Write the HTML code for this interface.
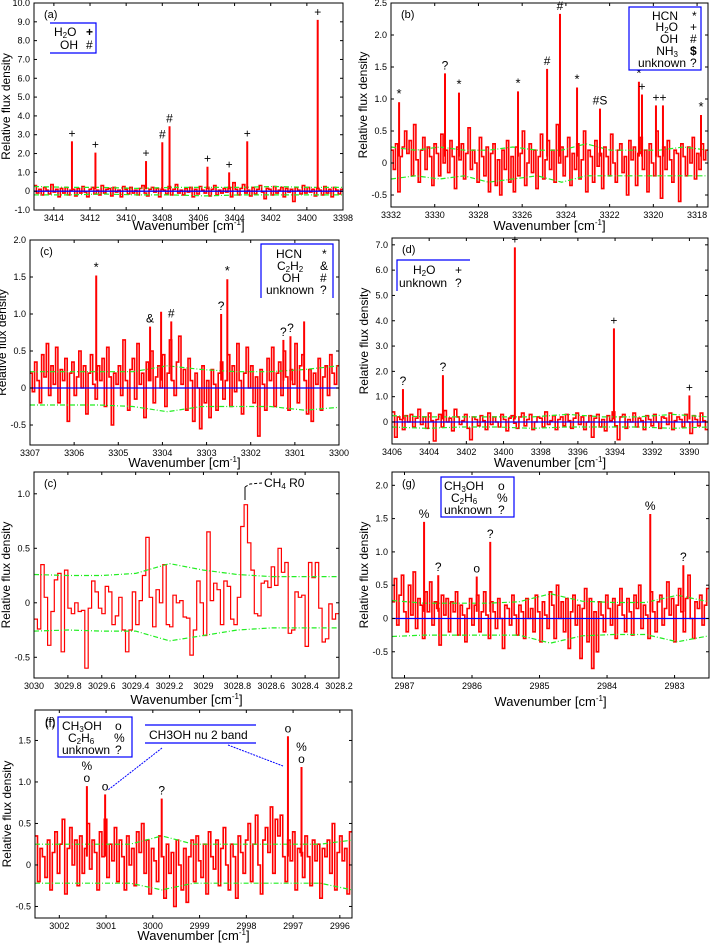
<!DOCTYPE html>
<html><head><meta charset="utf-8"><style>
html,body{margin:0;padding:0;background:#fff;}
svg{display:block;font-family:"Liberation Sans",sans-serif;}
</style></head><body>
<svg id="fig" width="711" height="947" viewBox="0 0 711 947" xmlns="http://www.w3.org/2000/svg"></svg>
<script>
// ---------- DATA ----------
const aNoise=[0.3,-0.1,0.1,-0.2,0.2,0.05,-0.15,0.35,-0.05,0.1,-0.3,0.15,-0.1,0.2,-0.2,0.05,0.1,-0.25,0.15,-0.1,0.25,-0.05,-0.3,0.1,0.2,-0.15,0.05,-0.2,0.3,-0.1,0.1,0.15,-0.25,0.2,-0.05,0.05,-0.3,0.25,0.1,-0.15,0.2,-0.1,0.05,-0.2,0.15,0.3,-0.1,-0.25,0.1,0.2,-0.05,0.15,-0.3,0.1,0.05,-0.15,0.25,-0.2,0.1,0.35,-0.1,0.05,-0.2,0.15,-0.05,0.2,-0.3,0.1,-0.15,0.25,0.05,-0.1,0.2,-0.25,0.1,0.3,-0.2,0.05,-0.1,0.15,-0.05,0.2,-0.3,0.45,0.1,-0.2,0.15,0.35,-0.1,0.05,-0.25,0.2,-0.15,0.1,0.3,-0.05,-0.4,0.15,0.1,-0.2,0.25,-0.1,0.05,0.2,-0.3,0.15,-0.05,0.1,-0.55,0.2,0.05,-0.15,0.3,-0.1,0.2,-0.05,0.1,-0.25,0.15,0.05,-0.2,0.25,-0.1,0.1,-0.3,0.2,0.05,-0.15,0.1];
const aPeakPos=[3413.0,3411.7,3408.9,3408.0,3407.6,3405.5,3404.3,3403.3,3399.4];
const aPeakVal=[2.65,2.05,1.6,2.6,3.45,1.3,1.0,2.65,9.1];
const aPeakSym=['+','+','+','#','#','+','+','+','+'];
const aEnvUp=[0.25,0.2,0.2,0.15,0.2,0.2,0.2,0.25,0.2,0.2];
const aEnvLo=[-0.2,-0.2,-0.15,-0.2,-0.2,-0.25,-0.2,-0.2,-0.2,-0.2];

const bNoise=[0.2,-0.1,0.3,-0.45,0.1,0.25,0.5,0.15,0.35,-0.2,0.6,0.05,-0.3,0.2,0.4,-0.1,0.25,0.1,-0.35,0.3,0.15,-0.2,0.45,0.0,0.2,-0.15,0.35,0.1,-0.4,0.25,0.05,0.3,-0.25,0.15,0.55,-0.1,0.2,0.0,-0.3,0.4,0.1,-0.2,0.25,-0.45,0.15,0.3,-0.35,0.05,-0.5,0.2,-0.1,0.35,-0.3,0.1,-0.45,0.25,-0.2,0.15,0.5,-0.35,0.0,0.3,-0.15,0.2,-0.4,0.1,0.45,-0.25,0.05,0.35,-0.1,0.2,-0.3,0.6,0.0,0.25,-0.2,0.1,0.4,-0.35,0.15,-0.1,0.3,-0.25,0.05,0.5,-0.45,0.2,0.1,-0.3,0.35,-0.05,0.15,-0.4,0.25,0.1,-0.2,0.45,0.0,-0.3,0.2,0.3,-0.15,0.1,-0.5,0.35,0.05,0.25,-0.35,0.15,0.4,-0.1,0.2,-0.45,0.3,0.0,-0.2,0.5,0.1,-0.55,0.25,-0.1,0.35,0.05,-0.3,0.2,0.15,-0.6,0.3,0.1,-0.2,0.25,0.0,0.4,-0.25,0.15,-0.1,0.3,0.05,0.2];
const bPeakPos=[3331.63,3329.53,3328.89,3326.19,3324.86,3324.27,3323.49,3322.44,3320.66,3320.52,3319.88,3319.56,3317.82];
const bPeakVal=[0.95,1.4,1.1,1.12,1.47,2.33,1.18,0.85,1.27,1.07,0.9,0.9,0.75];
const bPeakSym=['*','?','*','*','#','#','*','#$','*','+','+','+','*'];
const bEnvUp=[0.25,0.2,0.25,0.2,0.2,0.25,0.2,0.2,0.3,0.2,0.2,0.2,0.25,0.2];
const bEnvLo=[-0.25,-0.2,-0.25,-0.2,-0.3,-0.25,-0.2,-0.3,-0.2,-0.2,-0.2,-0.2,-0.2,-0.2];

const cNoise=[0.2,-0.05,0.35,0.1,-0.2,0.45,0.15,0.6,-0.1,0.3,0.05,0.55,-0.2,0.25,0.1,0.4,-0.45,0.2,0.35,-0.1,0.15,0.5,0.0,0.3,-0.35,0.2,0.45,0.05,-0.15,0.3,0.1,0.4,-0.25,0.55,0.15,-0.5,0.2,0.05,0.3,-0.1,0.65,0.1,-0.3,0.25,0.4,-0.15,0.6,0.05,0.2,-0.4,0.35,0.1,0.5,-0.2,0.15,0.3,0.0,0.45,-0.25,0.2,0.65,0.1,-0.1,0.35,0.7,0.05,0.25,-0.3,0.4,0.1,-0.45,0.2,0.0,-0.55,0.3,-0.2,0.1,-0.4,0.25,0.05,-0.3,0.2,0.35,-0.15,0.1,0.45,-0.25,0.3,-0.05,0.6,0.1,-0.35,0.2,0.55,0.0,0.3,-0.2,0.15,-0.65,0.25,0.05,-0.3,0.4,0.1,0.55,-0.25,0.2,0.35,-0.1,0.5,0.15,-0.3,0.25,0.05,0.6,-0.2,0.3,0.45,0.1,-0.35,0.25,-0.45,0.2,0.05,0.4,-0.3,0.15,0.3,-0.1,0.45,0.2,0.05,0.3];
const cPeakPos=[3305.5,3304.28,3304.03,3303.8,3302.67,3302.53,3301.26,3301.1,3300.79];
const cPeakVal=[1.52,0.83,1.03,0.9,1.0,1.47,0.65,0.7,0.9];
const cPeakSym=['*','&','','#','?','*','?','?',''];
const cEnvUp=[0.22,0.22,0.22,0.22,0.3,0.25,0.22,0.22,0.25,0.3];
const cEnvLo=[-0.23,-0.23,-0.23,-0.25,-0.32,-0.25,-0.25,-0.25,-0.3,-0.26];

const dNoise=[0.4,-0.6,0.2,0.1,-0.3,0.25,0.0,0.3,-0.2,0.15,0.5,-0.1,0.2,-0.25,0.35,0.05,-0.75,0.1,0.3,-0.2,0.45,0.0,0.15,-0.35,0.5,0.2,-0.1,0.05,0.3,-0.25,-0.7,0.2,0.1,-0.15,0.25,0.05,-0.3,0.35,-0.1,0.2,0.0,-0.2,0.3,0.1,-0.35,0.15,0.25,-0.05,-0.25,0.2,0.35,-0.15,0.1,0.3,-0.3,0.0,0.2,0.15,-0.2,0.4,-0.1,0.05,0.25,-0.3,0.1,0.2,-0.15,0.3,0.05,-0.25,0.15,0.35,-0.1,0.2,-0.3,0.0,0.25,-0.6,0.15,0.3,-0.2,0.1,-0.35,0.25,0.05,0.4,-0.15,-0.7,0.2,0.3,-0.25,0.1,0.0,0.35,-0.2,0.15,0.05,-0.3,0.25,0.1,-0.15,0.3,0.0,-0.25,0.2,0.15,-0.1,0.35,-0.3,0.05,0.2,0.1,-0.2,0.3,0.0,-0.45,0.25,0.1,-0.15,0.35,0.05,-0.3];
const dPeakPos=[3405.41,3403.26,3399.39,3394.06,3390.0];
const dPeakVal=[1.3,1.85,6.9,3.7,1.05];
const dPeakSym=['?','?','+','+','+'];
const dEnvUp=[0.25,0.2,0.2,0.2,0.2,0.3,0.2,0.2,0.3,0.2];
const dEnvLo=[-0.2,-0.25,-0.2,-0.2,-0.25,-0.2,-0.2,-0.2,-0.25,-0.2];

const eValues=[-0.15,-0.24,0.35,0.05,-0.39,-0.08,0.21,0.27,-0.45,0.3,-0.05,-0.1,0.0,-0.08,-0.07,-0.6,-0.05,0.2,0.1,-0.05,-0.1,0.15,0.1,-0.2,-0.12,0.05,-0.25,-0.45,-0.25,0.1,-0.2,0.02,0.25,0.6,0.05,-0.22,0.12,0.0,0.35,-0.2,-0.22,0.07,0.0,0.02,-0.13,-0.14,-0.48,-0.25,0.2,0.0,-0.3,0.65,0.02,0.18,0.12,-0.2,0.2,0.15,-0.15,-0.2,0.05,0.7,0.9,0.55,0.3,-0.1,-0.12,0.18,0.2,0.14,0.33,0.16,0.5,0.28,0.37,-0.28,-0.25,0.1,0.05,0.07,-0.4,0.37,0.23,0.37,-0.05,-0.36,-0.33,-0.01,-0.15,-0.1];
const eEnvUp=[0.26,0.25,0.25,0.27,0.36,0.3,0.26,0.24,0.24,0.24];
const eEnvLo=[-0.26,-0.25,-0.26,-0.26,-0.35,-0.3,-0.25,-0.23,-0.23,-0.23];

const gNoise=[0.25,0.6,-0.1,0.35,0.65,0.1,-0.2,0.5,0.05,0.7,-0.15,0.3,0.2,-0.3,0.4,0.1,0.55,-0.1,0.25,0.15,-0.4,0.35,0.05,0.3,-0.2,0.25,0.1,0.4,-0.25,0.2,0.05,-0.35,0.15,0.3,-0.1,0.2,0.35,-0.2,0.1,0.4,0.05,-0.3,0.25,0.1,-0.15,0.3,0.0,-0.45,0.2,0.15,-0.1,0.35,0.05,-0.25,0.2,0.1,-0.3,0.3,0.0,0.15,-0.2,0.35,0.1,-0.35,0.25,0.05,-0.15,0.4,0.2,-0.3,0.5,0.0,0.25,-0.2,0.3,-0.45,0.1,0.35,-0.1,0.2,-0.6,0.15,0.45,-0.35,0.3,-0.75,0.1,-0.5,0.25,0.05,-0.2,0.35,0.15,-0.1,0.3,-0.3,0.2,0.45,0.05,-0.2,0.3,0.1,-0.25,0.35,0.15,0.5,-0.15,0.2,0.05,-0.3,0.4,0.1,-0.2,0.25,0.35,-0.1,0.15,0.55,0.05,0.3,-0.35,0.2,0.45,0.1,-0.2,0.3,0.65,0.0,-0.3,0.25,0.15,0.35,-0.1,0.2,0.45];
const gPeakPos=[2986.71,2986.50,2985.93,2985.73,2983.36,2982.87];
const gPeakVal=[1.45,0.65,0.63,1.15,1.57,0.8];
const gPeakSym=['%','?','o','?','%','?'];
const gEnvUp=[0.27,0.23,0.23,0.23,0.25,0.37,0.26,0.24,0.24,0.35,0.25];
const gEnvLo=[-0.27,-0.25,-0.25,-0.25,-0.25,-0.37,-0.26,-0.24,-0.24,-0.35,-0.26];

const fNoise=[0.35,-0.2,0.2,0.1,-0.15,0.3,-0.3,0.15,0.4,-0.1,0.25,0.55,-0.35,0.2,0.45,0.0,0.3,-0.25,0.35,-0.1,0.2,0.5,-0.05,0.3,0.15,-0.3,0.4,0.1,0.55,-0.15,0.25,0.05,0.45,-0.2,0.3,0.1,-0.3,0.35,0.0,0.2,-0.25,0.4,0.15,0.5,-0.1,0.3,-0.35,0.2,0.05,-0.2,0.35,0.1,-0.4,0.25,-0.1,0.15,-0.5,0.3,0.0,-0.3,0.2,-0.45,0.1,0.3,-0.2,0.35,0.05,-0.15,0.25,-0.35,0.4,0.1,-0.05,0.3,-0.25,0.2,0.45,0.0,-0.3,0.25,0.1,-0.4,0.35,0.15,-0.1,0.3,0.5,-0.2,0.25,0.6,0.0,-0.35,0.3,0.45,0.15,0.7,-0.1,0.55,0.35,0.6,0.1,-0.2,0.3,0.05,0.4,-0.3,0.2,0.15,-0.15,0.35,0.1,-0.25,0.3,0.05,0.25,-0.4,0.2,0.1,0.3,-0.1,0.5,-0.3,0.15,0.35,0.05,0.2,-0.35,0.4];
const fPeakPos=[3001.41,3001.02,2999.81,2997.11,2996.82];
const fPeakVal=[0.95,0.85,0.8,1.55,1.18];
const fPeakSym=['%o','o','?','o','%o'];
const fEnvUp=[0.25,0.25,0.25,0.25,0.35,0.25,0.25,0.25,0.25,0.25,0.3];
const fEnvLo=[-0.22,-0.22,-0.22,-0.22,-0.3,-0.22,-0.22,-0.22,-0.22,-0.22,-0.3];

// ---------- DRAWING ----------
const NS='http://www.w3.org/2000/svg';
const svg=document.getElementById('fig');
function mk(tag,attrs,parent){const e=document.createElementNS(NS,tag);for(const k in attrs)e.setAttribute(k,attrs[k]);(parent||svg).appendChild(e);return e;}

function panel(p){
  const g=mk('g',{});
  
  
  const [L,T,R,B]=p.box;
  const sx=v=>L+(p.x0-v)/(p.x0-p.x1)*(R-L);
  const sy=v=>B-(v-p.y0)/(p.y1-p.y0)*(B-T);
  const cl='clip'+p.id;
  const cp=mk('clipPath',{id:cl},g);mk('rect',{x:L,y:T,width:R-L,height:B-T},cp);
  const plot=mk('g',{'clip-path':'url(#'+cl+')'},g);
  const n=p.noise.length;let d='';
  for(let i=0;i<n;i++){
    const xa=sx(p.x0+(p.x1-p.x0)*i/n), xb=sx(p.x0+(p.x1-p.x0)*(i+1)/n), y=sy(p.noise[i]);
    d+=(i?'L':'M')+xa.toFixed(1)+' '+y.toFixed(1)+'L'+xb.toFixed(1)+' '+y.toFixed(1);
  }
  const sp=mk('path',{d:d,fill:'none',stroke:'#f00','stroke-width':p.sw||1.6},plot);
  
  
  [p.envUp,p.envLo].forEach((env,k)=>{
    let dd='';env.forEach((v,i)=>{const x=sx(p.x0+(p.x1-p.x0)*i/(env.length-1));dd+=(i?'L':'M')+x.toFixed(1)+' '+sy(v).toFixed(1);});
    const ep=mk('path',{d:dd,fill:'none',stroke:'#2e2','stroke-width':1.2,'stroke-dasharray':'5,2,1,2'},plot);
    
    
  });
  if(p.zero){const z=mk('line',{x1:L,x2:R,y1:sy(0),y2:sy(0),stroke:'#00f','stroke-width':1.3},plot);
    }
  (p.peakPos||[]).forEach((w,i)=>{
    const x=sx(w),v=p.peakVal[i];
    const pk=mk('line',{x1:x,x2:x,y1:sy(0.1),y2:sy(v),stroke:'#f00','stroke-width':2},plot);
    
    
    const s=p.peakSym[i];
    if(s){
      const lines=s==='%o'?['%','o']:[s];
      lines.forEach((t,j)=>{
        const tx=mk('text',{x:x,y:sy(v)-4-(lines.length-1-j)*12,'text-anchor':'middle','font-size':(t==='*'?13:12),fill:'#000'},g);
        tx.textContent=t==='#$'?'#S':t;
        
        
      });
    }
  });
  const fr=mk('rect',{x:L,y:T,width:R-L,height:B-T,fill:'none',stroke:'#000','stroke-width':1},g);
  
  p.yTicks.forEach((v,i)=>{
    const y=sy(v);
    mk('line',{x1:L,x2:L+3,y1:y,y2:y,stroke:'#000'},g);mk('line',{x1:R,x2:R-3,y1:y,y2:y,stroke:'#000'},g);
    const t=mk('text',{x:L-4,y:y+3,'text-anchor':'end','font-size':9,fill:'#000'},g);
    t.textContent=p.yLabels[i];
    
    
  });
  p.xTicks.forEach((v,i)=>{
    const x=sx(v);
    mk('line',{x1:x,x2:x,y1:B,y2:B-3,stroke:'#000'},g);mk('line',{x1:x,x2:x,y1:T,y2:T+3,stroke:'#000'},g);
    const t=mk('text',{x:x,y:B+11,'text-anchor':'middle','font-size':9,fill:'#000'},g);
    t.textContent=p.xLabels[i];
    
    
  });
  const yt=mk('text',{transform:'translate('+(L-24)+','+((T+B)/2)+') rotate(-90)','text-anchor':'middle','font-size':12,fill:'#000'},g);
  yt.textContent='Relative flux density';
  
  if(p.xt!==false){
    const xt=mk('text',{x:(L+R)/2,y:p.xtY||B+24,'text-anchor':'middle','font-size':13,fill:'#000'},g);
    xt.innerHTML='Wavenumber [cm<tspan font-size="8" dy="-5">-1</tspan><tspan dy="5">]</tspan>';
    
  }
  const pl=mk('text',{x:L+10,y:T+15,'font-size':11,fill:'#000'},g);pl.textContent='('+(p.label||p.id)+')';
  
  return g;
}
function rng(a,b,s){const r=[];for(let v=a;s>0?v<=b+1e-9:v>=b-1e-9;v+=s)r.push(Math.round(v*100)/100);return r;}
function fmt1(v){return v===0?'0':v.toFixed(1);}

panel({id:'a',box:[34,3,343,210],x0:3415.1,x1:3398,y0:-1,y1:10,noise:aNoise,envUp:aEnvUp,envLo:aEnvLo,zero:true,
  peakPos:aPeakPos,peakVal:aPeakVal,peakSym:aPeakSym,yTicks:rng(-1,10,1),yLabels:rng(-1,10,1).map(fmt1),
  xTicks:rng(3414,3398,-2),xLabels:rng(3414,3398,-2).map(String),xtY:230});
panel({id:'b',box:[391,3,708,207],x0:3332,x1:3317.5,y0:-0.6875,y1:2.5,noise:bNoise,envUp:bEnvUp,envLo:bEnvLo,
  peakPos:bPeakPos,peakVal:bPeakVal,peakSym:bPeakSym,yTicks:rng(-0.5,2.5,0.5),yLabels:rng(-0.5,2.5,0.5).map(fmt1),
  xTicks:rng(3332,3318,-2),xLabels:rng(3332,3318,-2).map(String),xtY:230});
panel({id:'c',box:[30,240,339,445],x0:3307,x1:3300,y0:-0.77,y1:2.0,noise:cNoise,envUp:cEnvUp,envLo:cEnvLo,zero:true,
  peakPos:cPeakPos,peakVal:cPeakVal,peakSym:cPeakSym,yTicks:rng(-0.5,2,0.5),yLabels:rng(-0.5,2,0.5).map(fmt1),
  xTicks:rng(3307,3300,-1),xLabels:rng(3307,3300,-1).map(String),xtY:467});
panel({id:'d',box:[392,238,708,444],x0:3406,x1:3389,y0:-0.87,y1:7.27,noise:dNoise,envUp:dEnvUp,envLo:dEnvLo,zero:true,
  peakPos:dPeakPos,peakVal:dPeakVal,peakSym:dPeakSym,yTicks:rng(0,7,1),yLabels:rng(0,7,1).map(fmt1),
  xTicks:rng(3406,3390,-2),xLabels:rng(3406,3390,-2).map(String),xtY:467});
panel({id:'e',label:'c',sw:1.2,box:[34,472,339,678],x0:3030,x1:3028.2,y0:-0.69,y1:1.2,noise:eValues,envUp:eEnvUp,envLo:eEnvLo,
  yTicks:rng(-0.5,1,0.5),yLabels:rng(-0.5,1,0.5).map(fmt1),
  xTicks:rng(3030,3028.2,-0.2),xLabels:rng(3030,3028.2,-0.2).map(v=>v===3030?'3030':v===3029?'3029':v.toFixed(1)),xtY:704});
panel({id:'g',box:[392,472,709,678],x0:2987.185,x1:2982.49,y0:-0.894,y1:2.2,noise:gNoise,envUp:gEnvUp,envLo:gEnvLo,zero:true,
  peakPos:gPeakPos,peakVal:gPeakVal,peakSym:gPeakSym,yTicks:rng(-0.5,2,0.5),yLabels:rng(-0.5,2,0.5).map(fmt1),
  xTicks:rng(2987,2983,-1),xLabels:rng(2987,2983,-1).map(String),xtY:706});
panel({id:'f',box:[35,710,352,918],x0:3002.52,x1:2995.74,y0:-0.639,y1:1.867,noise:fNoise,envUp:fEnvUp,envLo:fEnvLo,
  peakPos:fPeakPos,peakVal:fPeakVal,peakSym:fPeakSym,yTicks:rng(-0.5,1.5,0.5),yLabels:rng(-0.5,1.5,0.5).map(fmt1),
  xTicks:rng(3002,2996,-1),xLabels:rng(3002,2996,-1).map(String),xtY:940});

mk('line',{x1:245,x2:245,y1:500,y2:487,stroke:'#000'});
mk('path',{d:'M245 487 L250 484 L262 483',fill:'none',stroke:'#000','stroke-dasharray':'3,2'});
const ch4=mk('text',{x:264,y:487,'font-size':12,fill:'#000'});
ch4.innerHTML='CH<tspan font-size="8" dy="2">4</tspan><tspan dy="-2"> R0</tspan>';

</script>

<svg style="position:absolute;left:0;top:0" width="711" height="947" font-family="Liberation Sans, sans-serif" font-size="12">
  <g>
    <path d="M50 23 H96 V53 H50" fill="none" stroke="#00f" stroke-width="1.2"/>
    <text x="54" y="36">H<tspan font-size="8" dy="2">2</tspan><tspan dy="-2">O</tspan></text><text x="86" y="36" font-weight="bold">+</text>
    <text x="60" y="49">OH</text><text x="86" y="49">#</text>
  </g>
  <g>
    <rect x="629" y="7" width="72" height="63" fill="#fff" stroke="#00f" stroke-width="1.2"/>
    <text x="678" y="20" text-anchor="end">HCN</text><text x="692" y="20">*</text>
    <text x="678" y="31" text-anchor="end">H<tspan font-size="8" dy="2">2</tspan><tspan dy="-2">O</tspan></text><text x="690" y="31">+</text>
    <text x="678" y="43" text-anchor="end">OH</text><text x="690" y="43">#</text>
    <text x="678" y="55" text-anchor="end">NH<tspan font-size="8" dy="2">3</tspan></text><text x="690" y="55" font-weight="bold">$</text>
    <text x="686" y="67" text-anchor="end">unknown</text><text x="690" y="67">?</text>
  </g>
  <g>
    <path d="M261 298 V244 H333 V298" fill="#fff" stroke="#00f" stroke-width="1.2"/>
    <text x="276" y="258">HCN</text><text x="322" y="258">*</text>
    <text x="277" y="270">C<tspan font-size="8" dy="2">2</tspan><tspan dy="-2">H</tspan><tspan font-size="8" dy="2">2</tspan></text><text x="320" y="270">&amp;</text>
    <text x="282" y="282">OH</text><text x="320" y="282">#</text>
    <text x="266" y="294">unknown</text><text x="320" y="294">?</text>
  </g>
  <g>
    <path d="M397 291 V260 H470" fill="none" stroke="#00f" stroke-width="1.2"/>
    <text x="413" y="274">H<tspan font-size="8" dy="2">2</tspan><tspan dy="-2">O</tspan></text><text x="455" y="274">+</text>
    <text x="399" y="287">unknown</text><text x="455" y="287">?</text>
  </g>
  <g>
    <rect x="441" y="477" width="73" height="40" fill="#fff" stroke="#00f" stroke-width="1.2"/>
    <text x="444" y="490">CH<tspan font-size="8" dy="2">3</tspan><tspan dy="-2">OH</tspan></text><text x="498" y="490">o</text>
    <text x="451" y="502">C<tspan font-size="8" dy="2">2</tspan><tspan dy="-2">H</tspan><tspan font-size="8" dy="2">6</tspan></text><text x="497" y="502">%</text>
    <text x="444" y="514">unknown</text><text x="498" y="514">?</text>
  </g>
  <g>
    <rect x="58" y="717" width="74" height="40" fill="#fff" stroke="#00f" stroke-width="1.2"/>
    <text x="45" y="727" font-size="11">(f)</text>
    <text x="62" y="730">CH<tspan font-size="8" dy="2">3</tspan><tspan dy="-2">OH</tspan></text><text x="115" y="730">o</text>
    <text x="68" y="742">C<tspan font-size="8" dy="2">2</tspan><tspan dy="-2">H</tspan><tspan font-size="8" dy="2">6</tspan></text><text x="114" y="742">%</text>
    <text x="62" y="754">unknown</text><text x="115" y="754">?</text>
  </g>
  <g>
    <line x1="145" y1="725" x2="256" y2="725" stroke="#00f" stroke-width="1.2"/>
    <line x1="145" y1="743" x2="256" y2="743" stroke="#00f" stroke-width="1.2"/>
    <text x="149" y="739" font-size="12">CH3OH nu 2 band</text>
    <line x1="162" y1="748" x2="108" y2="790" stroke="#00f" stroke-dasharray="2,1"/>
    <line x1="228" y1="745" x2="283" y2="766" stroke="#00f" stroke-dasharray="2,1"/>
  </g>
</svg>
</body></html>
